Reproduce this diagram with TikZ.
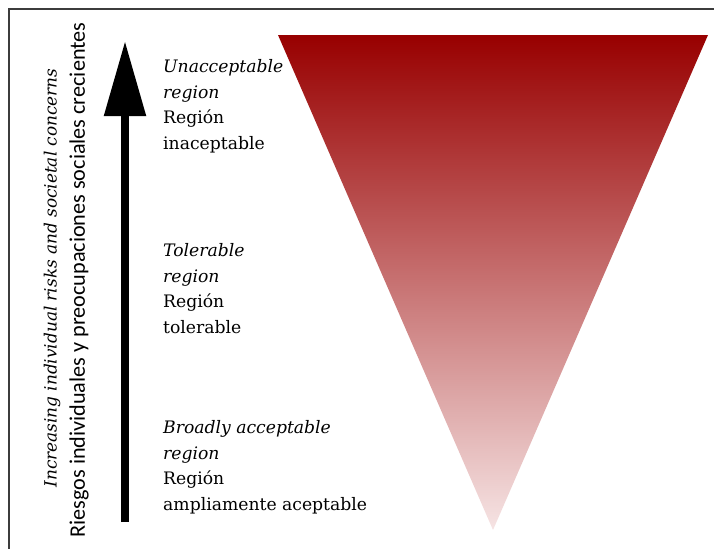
\documentclass[tikz,border=0pt]{standalone}
\usepackage{fontspec}
\setmainfont{DejaVu Serif}
\newfontfamily\calib{Carlito}
\usetikzlibrary{arrows.meta}
\definecolor{topred}{RGB}{152,0,0}
\definecolor{botpink}{RGB}{246,228,228}
\definecolor{framegray}{RGB}{60,60,60}
\tikzset{
  lbl/.style={anchor=base west, align=left, inner sep=0pt, font=\fontsize{17.2}{25.5}\selectfont},
  vtext/.style={rotate=90, inner sep=0pt, anchor=center}
}
\begin{document}
\begin{tikzpicture}[x=1pt,y=-1pt]
\useasboundingbox (0,0) rectangle (714,549);
% frame (top and left)
\coordinate (fr) at (714,9);
\coordinate (fc) at (9,9);
\coordinate (fb) at (9,549);
\draw[framegray, line width=1.2pt] (fr) -- (fc) -- (fb);
% triangle
\coordinate (tl) at (278,35);
\coordinate (tr) at (708,35);
\coordinate (tb) at (493,530);
\shade[top color=topred, bottom color=botpink] (tl) -- (tr) -- (tb) -- cycle;
% arrow
\coordinate (ab) at (125,522);
\coordinate (at) at (125,41);
\draw[line width=8.5pt, -{Triangle[width=40pt,length=75pt]}] (ab) -- (at);
% vertical texts
\node[vtext, font=\fontsize{16.9}{16.9}\selectfont\itshape] (v1) at (52,278) {Increasing individual risks and societal concerns};
\node[vtext, font=\calib\fontsize{22.2}{22.2}\selectfont] (v2) at (79,280) {Riesgos individuales y preocupaciones sociales crecientes};
% labels (base anchor = last line baseline)
\node[lbl] (u) at (163,149) {\textit{Unacceptable}\\\textit{region}\\Región\\inaceptable};
\node[lbl] (t) at (163,333) {\textit{Tolerable}\\\textit{region}\\Región\\tolerable};
\node[lbl] (b) at (163,510) {\textit{Broadly acceptable}\\\textit{region}\\Región\\ampliamente aceptable};
\end{tikzpicture}
\end{document}
